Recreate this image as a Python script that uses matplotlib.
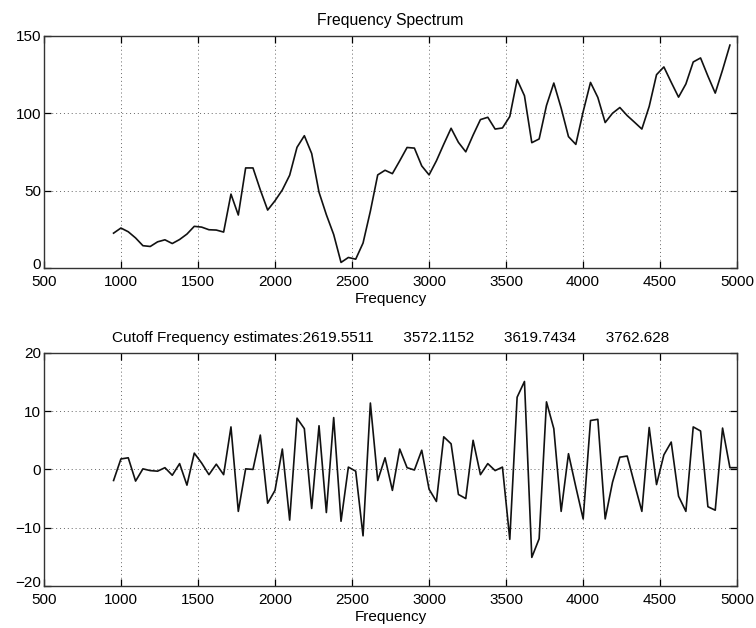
import numpy as np
import matplotlib
matplotlib.use("Agg")
import matplotlib.pyplot as plt
from matplotlib.transforms import ScaledTranslation

# FFT bin width (Hz); bins 20..104 shown in the spectrum
BIN_HZ = 47.62818
SPEC_BINS = np.arange(20, 105)
DIFF_BINS = np.arange(20, 106)

SPECTRUM = [
    22.6, 25.9, 23.5, 19.5, 14.5, 14.0, 17.0, 18.3, 15.9, 18.5,
    22.0, 27.0, 26.5, 24.8, 24.6, 23.3, 47.8, 34.3, 64.7, 64.7,
    50.5, 37.5, 43.5, 50.5, 60.0, 78.0, 85.5, 74.0, 49.0, 34.5,
    21.7, 3.7, 6.9, 5.8, 16.2, 36.8, 60.2, 63.2, 61.0, 69.3,
    77.9, 77.5, 66.0, 60.2, 69.3, 80.0, 90.3, 81.2, 75.1, 85.9,
    95.9, 97.4, 89.8, 90.5, 97.9, 121.7, 111.3, 81.0, 83.4, 105.0,
    119.5, 103.3, 84.9, 79.9, 101.0, 119.9, 110.2, 94.0, 100.0, 103.7,
    98.5, 94.2, 89.8, 104.4, 124.9, 129.9, 120.0, 110.4, 118.9, 133.1,
    135.7, 124.0, 113.0, 128.0, 144.0,
]

DIFF = [
    -1.9, 1.8, 2.0, -2.0, 0.1, -0.2, -0.3, 0.3, -1.0, 1.0,
    -2.7, 2.8, 1.1, -0.9, 0.9, -0.9, 7.3, -7.2, 0.1, 0.0,
    5.9, -5.8, -3.6, 3.5, -8.7, 8.8, 7.0, -6.7, 7.5, -7.4,
    8.9, -8.9, 0.4, -0.3, -11.4, 11.4, -1.9, 2.0, -3.6, 3.5,
    0.3, -0.1, 3.3, -3.4, -5.5, 5.6, 4.4, -4.3, -5.0, 5.0,
    -0.9, 1.0, -0.2, 0.4, -12.0, 12.4, 15.1, -15.1, -11.9, 11.6,
    7.0, -7.2, 2.7, -3.0, -8.5, 8.4, 8.6, -8.5, -2.2, 2.1,
    2.3, -2.5, -7.2, 7.2, -2.6, 2.5, 4.7, -4.6, -7.2, 7.3,
    6.6, -6.4, -7.0, 7.1, 0.3, 0.3,
]

CUTOFFS = ["2619.5511", "3572.1152", "3619.7434", "3762.628"]

plt.rcParams["font.family"] = ["Liberation Sans", "DejaVu Sans"]
plt.rcParams["font.size"] = 11

fig = plt.figure(figsize=(7.56, 6.28), dpi=100)
ax1 = fig.add_axes([0.058, 0.573, 0.917, 0.370])
ax2 = fig.add_axes([0.058, 0.067, 0.917, 0.371])

freq_spec = SPEC_BINS * BIN_HZ
freq_diff = DIFF_BINS * BIN_HZ

ax1.plot(freq_spec, SPECTRUM, color="#111111", lw=1.2)
ax2.plot(freq_diff, DIFF, color="#111111", lw=1.2)

ax1.set_ylim(0, 150)
ax1.set_yticks([0, 50, 100, 150])
ax2.set_ylim(-20, 20)
ax2.set_yticks([-20, -10, 0, 10, 20])

ax1.set_title("Frequency Spectrum", fontsize=11.3, pad=8)
ax2.set_title("Cutoff Frequency estimates:" + "       ".join(CUTOFFS),
              fontsize=11, pad=8)

for ax in (ax1, ax2):
    ax.set_xlim(500, 5000)
    ax.set_xticks(np.arange(500, 5001, 500))
    ax.set_xlabel("Frequency", fontsize=11, labelpad=2)
    ax.grid(True, linestyle=(0, (1, 3)), color="#666666", lw=0.7)
    ax.tick_params(direction="in", top=True, right=True, length=5,
                   width=0.9, labelsize=11)
    ax.tick_params(axis="x", pad=5)
    ax.tick_params(axis="y", pad=2)
    for s in ax.spines.values():
        s.set_linewidth(1.0)
        s.set_color("#333333")

# lift the lowest y label a little so it clears the first x label
for ax in (ax1, ax2):
    lbl = ax.yaxis.get_major_ticks()[0].label1
    lbl.set_transform(lbl.get_transform()
                      + ScaledTranslation(0, 3 / 72, fig.dpi_scale_trans))

fig.savefig("out.png", dpi=100)
